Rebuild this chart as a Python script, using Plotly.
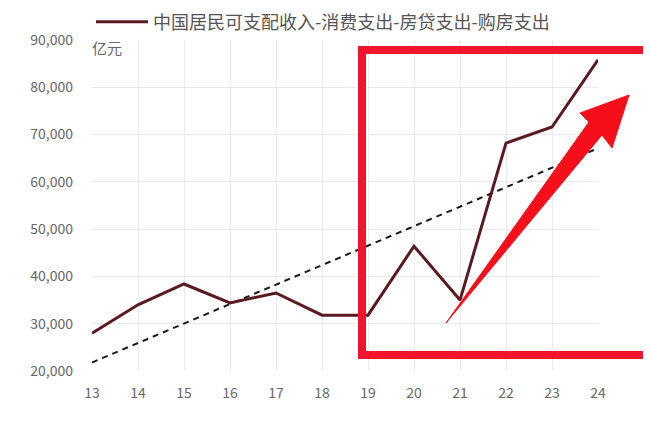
import plotly.graph_objects as go

years = [13, 14, 15, 16, 17, 18, 19, 20, 21, 22, 23, 24]
year_labels = [str(y) for y in years]
values = [28000, 34000, 38400, 34400, 36500, 31800, 31800, 46400, 35000, 68200, 71600, 85800]
trend_x = [13, 24]
trend_y = [21800, 67100]
y_ticks = [20000, 30000, 40000, 50000, 60000, 70000, 80000, 90000]
series_name = "中国居民可支配收入-消费支出-房贷支出-购房支出"
unit_label = "亿元"

OFF = 8  # page body margin
W, H = 651 - OFF, 424 - OFF
L, T = 92 - OFF, 40 - OFF
R = W - (598 - OFF)
B = H - (371 - OFF)
PW, PH = W - L - R, H - T - B

def px(x):  # reference-image pixel -> paper
    return (x - OFF - L) / PW

def py(y):
    return (H - B - (y - OFF)) / PH

font_family = "Noto Sans CJK SC, Noto Sans, sans-serif"

fig = go.Figure()
fig.add_trace(go.Scatter(
    x=trend_x, y=trend_y, mode="lines",
    line=dict(color="#1a1a1a", width=2, dash="6px,5px"),
    showlegend=False, hoverinfo="skip"))
fig.add_trace(go.Scatter(
    x=years, y=values, mode="lines", name=series_name,
    line=dict(color="#5a1a1f", width=3)))

# red highlight box
fig.add_shape(type="rect", xref="paper", yref="paper",
              x0=px(362), x1=px(680), y0=py(355), y1=py(50),
              line=dict(color="#f0142c", width=8), fillcolor="rgba(0,0,0,0)",
              layer="above")

# red arrow
pts = [(446, 323), (589, 122), (580, 113), (629, 95), (612, 148), (602, 135)]
path = "M " + " L ".join(f"{px(a):.4f},{py(b):.4f}" for a, b in pts) + " Z"
fig.add_shape(type="path", xref="paper", yref="paper", path=path,
              fillcolor="#f50f1a", line=dict(color="#f50f1a", width=1), layer="above")

fig.add_annotation(xref="paper", yref="paper", x=px(90), y=py(47),
                   text=unit_label, showarrow=False, xanchor="left", yanchor="middle",
                   font=dict(size=15, color="#666666", family=font_family))

fig.update_layout(
    width=W, height=H,
    margin=dict(l=L, r=R, t=T, b=B, autoexpand=False),
    paper_bgcolor="white", plot_bgcolor="white",
    font=dict(family=font_family, color="#666666"),
    showlegend=True,
    legend=dict(orientation="h", xref="container", yref="container",
                x=(91 - OFF) / W, y=1 - (22 - OFF) / H, xanchor="left", yanchor="middle",
                itemwidth=52,
                font=dict(size=18, color="#555555", family=font_family),
                bgcolor="rgba(0,0,0,0)"),
    xaxis=dict(range=[13, 24], tickmode="array", tickvals=years, ticktext=year_labels,
               showgrid=True, gridcolor="#ebebeb", gridwidth=1, zeroline=False,
               showline=False, ticks="", ticklabelstandoff=12,
               tickfont=dict(size=14, color="#666666")),
    yaxis=dict(range=[20000, 90000], tickmode="array", tickvals=y_ticks,
               tickformat=",d", showgrid=True, gridcolor="#ebebeb", gridwidth=1,
               zeroline=False, showline=False, ticks="", ticklabelstandoff=18,
               tickfont=dict(size=14, color="#666666")),
)

fig.write_html("out.html")
